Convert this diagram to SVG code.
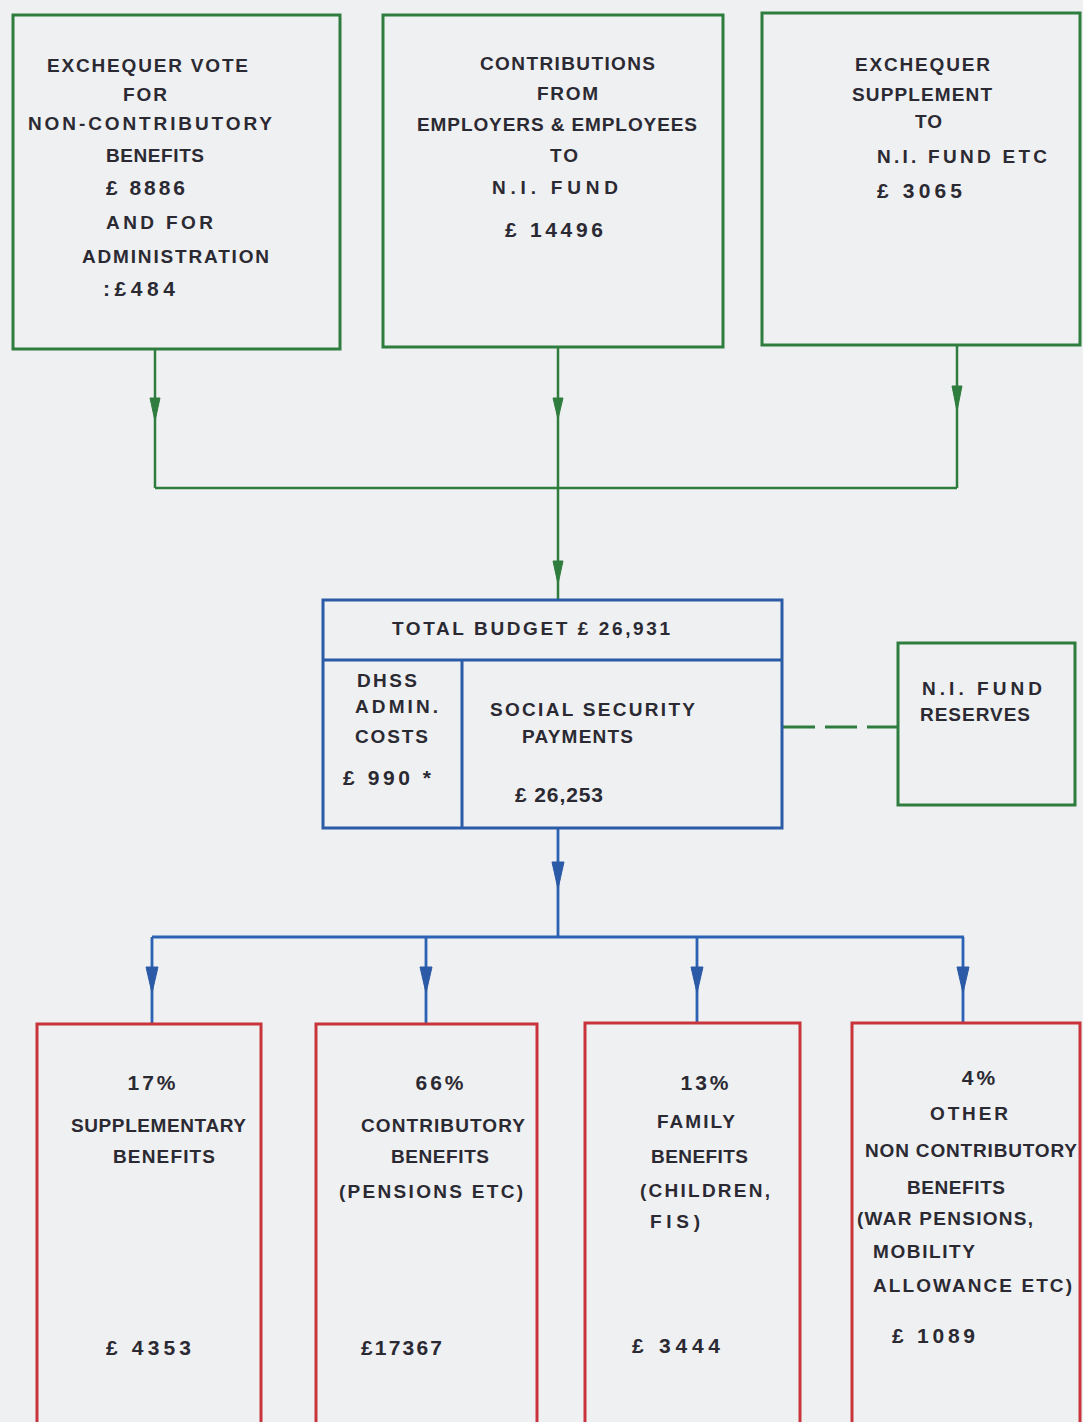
<svg xmlns="http://www.w3.org/2000/svg" width="1083" height="1422" viewBox="0 0 1083 1422">
<style>
.bg{fill:#eff0f2}
.g{fill:none;stroke:#2f7d3e;stroke-width:3}
.b{fill:none;stroke:#2b5aa6;stroke-width:3}
.r{fill:none;stroke:#c8343a;stroke-width:3}
.gl{fill:none;stroke:#2f7d3e;stroke-width:2.5}
.bl{fill:none;stroke:#2b62b4;stroke-width:2.8}
.ga{fill:#2f7d3e;stroke:#2f7d3e;stroke-width:1}
.ba{fill:#2b5aa6;stroke:#2b5aa6;stroke-width:1}
.dash{fill:none;stroke:#2f7d3e;stroke-width:3;stroke-dasharray:32 10}
text{font-family:"Liberation Sans",Arial,sans-serif;font-weight:bold;font-size:19px;fill:#2b2a33}
.n{font-size:21px}
.p{font-size:21px;text-anchor:middle;letter-spacing:3px}
</style>
<rect class="bg" x="0" y="0" width="1083" height="1422"/>

<g id="connectors">
  <path class="gl" d="M155 349 V488 M957 346 V488 M155 488 H957 M558 347 V600"/>
  <polygon class="ga" points="150,398 160,398 155,421"/>
  <polygon class="ga" points="553,398 563,398 558,419"/>
  <polygon class="ga" points="952,386 962,386 957,411"/>
  <polygon class="ga" points="553,561 563,561 558,584"/>
  <path class="dash" d="M783 727 H898"/>
  <path class="bl" d="M558 828 V937 M152 937 H964 M152 937 V1023 M426 937 V1023 M697 937 V1023 M963 937 V1023"/>
  <polygon class="ba" points="552,862 564,862 558,889"/>
  <polygon class="ba" points="146,967 158,967 152,993"/>
  <polygon class="ba" points="420,967 432,967 426,993"/>
  <polygon class="ba" points="691,967 703,967 697,993"/>
  <polygon class="ba" points="957,967 969,967 963,993"/>
</g>

<g id="exchequer-vote">
  <rect class="g" x="13" y="15" width="327" height="334"/>
  <text x="47" y="72" textLength="201">EXCHEQUER VOTE</text>
  <text x="123" y="101" textLength="44">FOR</text>
  <text x="28" y="130" textLength="244">NON-CONTRIBUTORY</text>
  <text x="106" y="162" textLength="98">BENEFITS</text>
  <text class="n" x="106" y="195" textLength="79">£ 8886</text>
  <text x="106" y="229" textLength="107">AND FOR</text>
  <text x="82" y="263" textLength="187">ADMINISTRATION</text>
  <text class="n" x="103" y="296" textLength="72">:£484</text>
</g>

<g id="contributions">
  <rect class="g" x="383" y="15" width="340" height="332"/>
  <text x="480" y="70" textLength="175">CONTRIBUTIONS</text>
  <text x="537" y="100" textLength="61">FROM</text>
  <text x="417" y="131" textLength="280">EMPLOYERS &amp; EMPLOYEES</text>
  <text x="550" y="162" textLength="28">TO</text>
  <text x="492" y="194" textLength="126">N.I. FUND</text>
  <text class="n" x="505" y="237" textLength="98">£ 14496</text>
</g>

<g id="exchequer-supplement">
  <rect class="g" x="762" y="13" width="318" height="332"/>
  <text x="855" y="71" textLength="135">EXCHEQUER</text>
  <text x="852" y="101" textLength="140">SUPPLEMENT</text>
  <text x="915" y="128" textLength="27">TO</text>
  <text x="877" y="163" textLength="170">N.I. FUND ETC</text>
  <text class="n" x="877" y="198" textLength="85">£ 3065</text>
</g>

<g id="total-budget">
  <rect class="b" x="323" y="600" width="459" height="228"/>
  <path class="b" d="M323 660 H782 M462 660 V828"/>
  <text x="392" y="635" textLength="278">TOTAL BUDGET £ 26,931</text>
  <text x="357" y="687" textLength="60">DHSS</text>
  <text x="355" y="713" textLength="83">ADMIN.</text>
  <text x="355" y="743" textLength="73">COSTS</text>
  <text class="n" x="343" y="785" textLength="88">£ 990 *</text>
  <text x="490" y="716" textLength="205">SOCIAL SECURITY</text>
  <text x="522" y="743" textLength="111">PAYMENTS</text>
  <text class="n" x="515" y="802" textLength="88">£ 26,253</text>
</g>

<g id="ni-fund-reserves">
  <rect class="g" x="898" y="643" width="177" height="162"/>
  <text x="922" y="695" textLength="120">N.I. FUND</text>
  <text x="920" y="721" textLength="110">RESERVES</text>
</g>

<g id="supplementary-benefits">
  <rect class="r" x="37" y="1024" width="224" height="420"/>
  <text class="p" x="153" y="1090">17%</text>
  <text x="71" y="1132" textLength="175">SUPPLEMENTARY</text>
  <text x="113" y="1163" textLength="102">BENEFITS</text>
  <text class="n" x="106" y="1355" textLength="85">£ 4353</text>
</g>

<g id="contributory-benefits">
  <rect class="r" x="316" y="1024" width="221" height="420"/>
  <text class="p" x="441" y="1090">66%</text>
  <text x="361" y="1132" textLength="164">CONTRIBUTORY</text>
  <text x="391" y="1163" textLength="98">BENEFITS</text>
  <text x="339" y="1198" textLength="184">(PENSIONS ETC)</text>
  <text class="n" x="361" y="1355" textLength="81">£17367</text>
</g>

<g id="family-benefits">
  <rect class="r" x="585" y="1023" width="215" height="420"/>
  <text class="p" x="706" y="1090">13%</text>
  <text x="657" y="1128" textLength="78">FAMILY</text>
  <text x="651" y="1163" textLength="97">BENEFITS</text>
  <text x="640" y="1197" textLength="130">(CHILDREN,</text>
  <text x="650" y="1228" textLength="50">FIS)</text>
  <text class="n" x="632" y="1353" textLength="88">£ 3444</text>
</g>

<g id="other-benefits">
  <rect class="r" x="852" y="1023" width="228" height="420"/>
  <text class="p" x="980" y="1085">4%</text>
  <text x="930" y="1120" textLength="78">OTHER</text>
  <text x="865" y="1157" textLength="212">NON CONTRIBUTORY</text>
  <text x="907" y="1194" textLength="98">BENEFITS</text>
  <text x="857" y="1225" textLength="176">(WAR PENSIONS,</text>
  <text x="873" y="1258" textLength="102">MOBILITY</text>
  <text x="873" y="1292" textLength="199">ALLOWANCE ETC)</text>
  <text class="n" x="892" y="1343" textLength="83">£ 1089</text>
</g>
</svg>
